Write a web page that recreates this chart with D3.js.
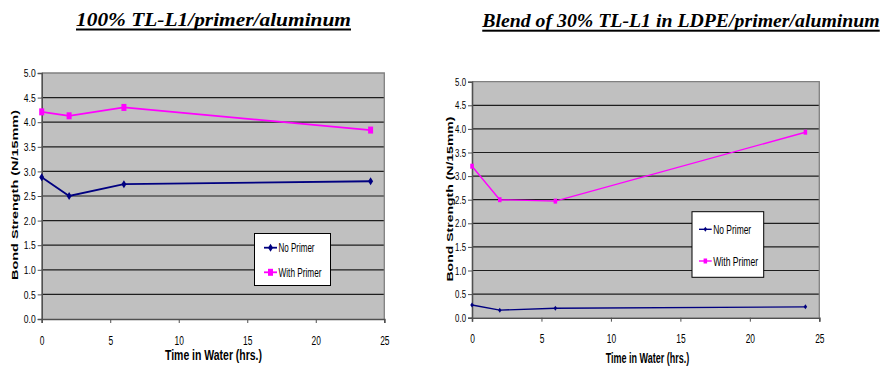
<!DOCTYPE html>
<html>
<head>
<meta charset="utf-8">
<script src="https://cdn.jsdelivr.net/npm/d3@7/dist/d3.min.js"></script>
<style>
  html, body { margin: 0; padding: 0; background: #fff; }
  svg { display: block; }
</style>
</head>
<body>
<svg id="chart" width="886" height="369"></svg>
<script>
// Bond strength after water immersion, two laminate constructions
const hours = [0, 2, 6, 24];
const pureNoPrimer = [2.88, 2.50, 2.74, 2.80];
const pureWithPrimer = [4.21, 4.13, 4.30, 3.84];
const blendNoPrimer = [0.27, 0.16, 0.20, 0.23];
const blendWithPrimer = [3.21, 2.50, 2.47, 3.93];
const yTickValues = [0, 0.5, 1.0, 1.5, 2.0, 2.5, 3.0, 3.5, 4.0, 4.5, 5.0];
const xTickValues = [0, 5, 10, 15, 20, 25];
const seriesNames = ["No Primer", "With Primer"];
const titles = ["100% TL-L1/primer/aluminum", "Blend of 30% TL-L1 in LDPE/primer/aluminum"];

const NAVY = "#000080", MAGENTA = "#FF00FF";
const svg = d3.select("#chart");

// stretch or squeeze a text element to a given width
function fitWidth(sel, w) {
  sel.attr("textLength", w).attr("lengthAdjust", "spacingAndGlyphs");
}
// narrow the glyphs of a text element by a factor
function narrow(sel, f) {
  sel.each(function () {
    const w = this.getComputedTextLength();
    this.setAttribute("textLength", w * f);
    this.setAttribute("lengthAdjust", "spacingAndGlyphs");
  });
}

function diamond(g, x, y, w, h, color) {
  g.append("path")
    .attr("d", `M${x},${y - h / 2}L${x + w / 2},${y}L${x},${y + h / 2}L${x - w / 2},${y}Z`)
    .attr("fill", color);
}
function rectMark(g, x, y, w, h, color) {
  g.append("rect").attr("x", x - w / 2).attr("y", y - h / 2)
    .attr("width", w).attr("height", h).attr("fill", color);
}

function drawPanel(cfg) {
  const g = svg.append("g");
  const x = d3.scaleLinear().domain([0, 25]).range([cfg.left, cfg.right]);
  const y = d3.scaleLinear().domain([0, 5]).range([cfg.bottom, cfg.top]);

  // title
  const t = g.append("text")
    .attr("x", cfg.titleX).attr("y", cfg.titleY)
    .attr("text-anchor", "middle")
    .attr("font-family", "Liberation Serif, Times New Roman, serif")
    .attr("font-weight", "bold").attr("font-style", "italic")
    .attr("font-size", 19.5)
    .attr("fill", "#000")
    .text(cfg.title);
  fitWidth(t, cfg.titleW);
  g.append("rect")
    .attr("x", cfg.titleX - cfg.titleW / 2).attr("y", cfg.underlineY)
    .attr("width", cfg.titleW).attr("height", 2).attr("fill", "#000");

  // plot background
  g.append("rect")
    .attr("x", cfg.left).attr("y", cfg.top)
    .attr("width", cfg.right - cfg.left).attr("height", cfg.bottom - cfg.top)
    .attr("fill", "#C0C0C0");

  // horizontal gridlines
  g.append("g").selectAll("line")
    .data(yTickValues.filter(v => v > 0 && v < 5))
    .join("line")
    .attr("x1", cfg.left).attr("x2", cfg.right)
    .attr("y1", d => y(d)).attr("y2", d => y(d))
    .attr("stroke", "#1e1e1e").attr("stroke-width", 1.2);

  // frame (top & right)
  g.append("path")
    .attr("d", `M${cfg.left},${cfg.top}H${cfg.right}V${cfg.bottom}`)
    .attr("fill", "none").attr("stroke", "#808080").attr("stroke-width", 1.3);

  // y axis
  const yAxis = d3.axisLeft(y).tickValues(yTickValues)
    .tickFormat(d3.format(".1f")).tickSize(4).tickPadding(2);
  const ya = g.append("g").attr("transform", `translate(${cfg.left},0)`).call(yAxis);
  ya.select(".domain").attr("stroke", "#505050").attr("stroke-width", 1.6);
  ya.selectAll(".tick line").attr("stroke", "#505050");
  ya.selectAll(".tick text")
    .attr("font-family", "Liberation Sans, Arial, sans-serif")
    .attr("font-size", 11.5).attr("fill", "#000")
    .call(narrow, cfg.yLabelNarrow);

  // x axis
  const xAxis = d3.axisBottom(x).tickValues(xTickValues).tickSize(4).tickPadding(cfg.xPad);
  const xa = g.append("g").attr("transform", `translate(0,${cfg.bottom})`).call(xAxis);
  xa.select(".domain").attr("stroke", "#505050").attr("stroke-width", 1.6);
  xa.selectAll(".tick line").attr("stroke", "#505050");
  xa.selectAll(".tick text")
    .attr("font-family", "Liberation Sans, Arial, sans-serif")
    .attr("font-size", 12).attr("fill", "#000")
    .call(narrow, 0.7);

  // axis titles
  const xt = g.append("text")
    .attr("x", cfg.xTitleX).attr("y", cfg.xTitleY)
    .attr("text-anchor", "middle")
    .attr("font-family", "Liberation Sans, Arial, sans-serif")
    .attr("font-weight", "bold").attr("font-size", 14)
    .attr("fill", "#000")
    .text("Time in Water (hrs.)");
  fitWidth(xt, cfg.xTitleW);

  const yt = g.append("text")
    .attr("transform", `translate(${cfg.yTitleX},${cfg.yTitleY}) rotate(-90)`)
    .attr("text-anchor", "middle")
    .attr("font-family", "Liberation Sans, Arial, sans-serif")
    .attr("font-weight", "bold").attr("font-size", cfg.yTitleSize)
    .attr("fill", "#000")
    .text("Bond Strength (N/15mm)");
  fitWidth(yt, cfg.yTitleW);

  // series
  const line = d3.line().x(d => x(d[0])).y(d => y(d[1]));
  const series = [
    { vals: cfg.noPrimer, color: NAVY, mark: diamond, mw: cfg.dW, mh: cfg.dH },
    { vals: cfg.withPrimer, color: MAGENTA, mark: rectMark, mw: cfg.sW, mh: cfg.sH }
  ];
  series.forEach(s => {
    const pts = hours.map((h, i) => [h, s.vals[i]]);
    g.append("path").attr("d", line(pts))
      .attr("fill", "none").attr("stroke", s.color).attr("stroke-width", cfg.lineW);
    pts.forEach(p => s.mark(g, x(p[0]), y(p[1]), s.mw, s.mh, s.color));
  });

  // legend
  const L = cfg.legend;
  g.append("rect").attr("x", L.x).attr("y", L.y).attr("width", L.w).attr("height", L.h)
    .attr("fill", "#fff").attr("stroke", "#000").attr("stroke-width", 1);
  series.forEach((s, i) => {
    const ly = L.rows[i];
    g.append("line").attr("x1", L.sx0).attr("x2", L.sx1).attr("y1", ly).attr("y2", ly)
      .attr("stroke", s.color).attr("stroke-width", cfg.lineW);
    s.mark(g, (L.sx0 + L.sx1) / 2, ly, s.mw, s.mh, s.color);
    const lt = g.append("text").attr("x", L.sx1 + 1.5).attr("y", ly + 4.5)
      .attr("font-family", "Liberation Sans, Arial, sans-serif")
      .attr("font-size", 12.5).attr("fill", "#000")
      .text(seriesNames[i]);
    fitWidth(lt, L.textW[i]);
  });
}

drawPanel({
  title: titles[0], titleX: 213.5, titleY: 26, titleW: 275, underlineY: 28.5,
  left: 41.7, right: 384.3, top: 73, bottom: 319,
  xPad: 13, xTitleX: 213.5, xTitleY: 359.5, xTitleW: 97,
  yTitleX: 17.5, yTitleY: 195, yTitleW: 170, yTitleSize: 9, yLabelNarrow: 0.74,
  noPrimer: pureNoPrimer, withPrimer: pureWithPrimer,
  lineW: 1.8, dW: 5, dH: 8, sW: 5, sH: 7,
  legend: { x: 254.5, y: 233.5, w: 76, h: 52, rows: [247.7, 272.3],
            sx0: 264, sx1: 277, textW: [36, 43] }
});

drawPanel({
  title: titles[1], titleX: 681, titleY: 26.5, titleW: 397.5, underlineY: 29.7,
  left: 472, right: 819.3, top: 81.7, bottom: 317.7,
  xPad: 13, xTitleX: 647.5, xTitleY: 363, xTitleW: 83.5,
  yTitleX: 452.5, yTitleY: 199, yTitleW: 165, yTitleSize: 8.5, yLabelNarrow: 0.68,
  noPrimer: blendNoPrimer, withPrimer: blendWithPrimer,
  lineW: 1.4, dW: 3.5, dH: 5, sW: 3.5, sH: 5,
  legend: { x: 692, y: 211.7, w: 71.7, h: 65.6, rows: [229.3, 261],
            sx0: 699, sx1: 711.7, textW: [38, 45] }
});
</script>
</body>
</html>
